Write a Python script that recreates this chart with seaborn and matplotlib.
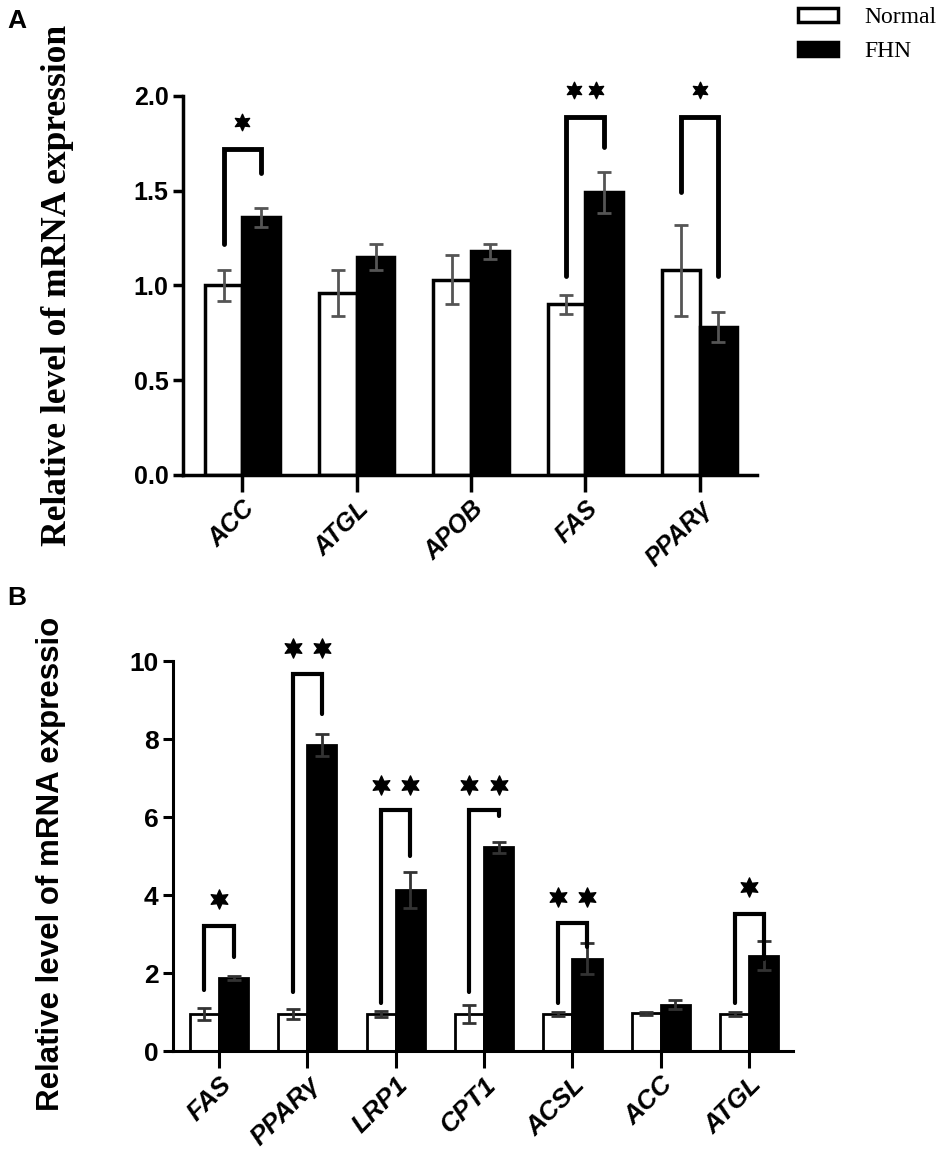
import pandas as pd
import numpy as np
import matplotlib
matplotlib.use('Agg')
import matplotlib.pyplot as plt
from matplotlib.patches import Patch
import seaborn as sns

### panel A data
genes_a = ['ACC', 'ATGL', 'APOB', 'FAS', 'PPARγ']
normal_a = [1.00, 0.96, 1.03, 0.90, 1.08]
normal_a_err = [0.08, 0.12, 0.13, 0.05, 0.24]
fhn_a = [1.36, 1.15, 1.18, 1.49, 0.78]
fhn_a_err = [0.05, 0.07, 0.04, 0.11, 0.08]
# significance brackets: gene index, left leg bottom, top, right leg bottom, label
sig_a_idx = [0, 3, 4]
sig_a_left = [1.22, 1.05, 1.49]
sig_a_top = [1.72, 1.89, 1.89]
sig_a_right = [1.59, 1.73, 1.05]
sig_a_stars = [1, 2, 1]
sig_a_star_y = [1.86, 2.03, 2.03]

### panel B data
genes_b = ['FAS', 'PPARγ', 'LRP1', 'CPT1', 'ACSL', 'ACC', 'ATGL']
normal_b = [0.95, 0.95, 0.95, 0.95, 0.95, 0.97, 0.95]
normal_b_err = [0.15, 0.12, 0.08, 0.22, 0.04, 0.04, 0.04]
fhn_b = [1.88, 7.85, 4.14, 5.23, 2.37, 1.19, 2.45]
fhn_b_err = [0.05, 0.28, 0.46, 0.14, 0.39, 0.12, 0.36]
sig_b_idx = [0, 1, 2, 3, 4, 6]
sig_b_left = [1.57, 1.52, 1.22, 1.52, 1.22, 1.22]
sig_b_top = [3.21, 9.67, 6.19, 6.19, 3.29, 3.51]
sig_b_right = [2.42, 8.65, 5.00, 6.02, 2.66, 2.37]
sig_b_stars = [1, 2, 2, 2, 2, 1]
sig_b_star_y = [3.90, 10.35, 6.82, 6.82, 3.95, 4.20]

groups = ['Normal', 'FHN']


def make_df(genes, normal, fhn):
    df = pd.DataFrame({'gene': genes * 2,
                       'group': ['Normal'] * len(genes) + ['FHN'] * len(genes),
                       'value': list(normal) + list(fhn)})
    return df


def draw_panel(ax, genes, normal, normal_err, fhn, fhn_err,
               s_idx, s_left, s_top, s_right, s_n, s_y, err_color, lw,
               star_gap, star_size, br_lw, spine_lw):
    df = make_df(genes, normal, fhn)
    sns.barplot(data=df, x='gene', y='value', hue='group', hue_order=groups,
                palette={'Normal': 'white', 'FHN': 'black'}, edgecolor='black',
                linewidth=lw, width=0.66, errorbar=None, ax=ax, legend=False)
    centers = []
    for cont, err in zip(ax.containers, [normal_err, fhn_err]):
        xs = [p.get_x() + p.get_width() / 2 for p in cont]
        ys = [p.get_height() for p in cont]
        ax.errorbar(xs, ys, yerr=err, fmt='none', ecolor=err_color,
                    elinewidth=2, capsize=5, capthick=2, zorder=1)
        centers.append(xs)
    # brackets
    for i, l, t, r, n, sy in zip(s_idx, s_left, s_top, s_right, s_n, s_y):
        x0 = centers[0][i]
        x1 = centers[1][i]
        ax.plot([x0, x0, x1, x1], [l, t, t, r], color='black', lw=br_lw,
                solid_capstyle='round', solid_joinstyle='miter', clip_on=False, zorder=5)
        mid = (x0 + x1) / 2
        if n == 1:
            sx = [mid]
        else:
            sx = [mid - star_gap, mid + star_gap]
        ax.scatter(sx, [sy] * len(sx), marker=(6, 1, 0), s=star_size, color='black',
                   clip_on=False, zorder=5)
    sns.despine(ax=ax)
    for s in ['left', 'bottom']:
        ax.spines[s].set_linewidth(spine_lw)
    ax.tick_params(axis='x', length=12, width=spine_lw)
    ax.tick_params(axis='y', length=7, width=spine_lw)
    ax.set_xlim(-0.52, len(genes) - 0.5)


fig = plt.figure(figsize=(9.53, 11.67), dpi=100)

ax_a = fig.add_axes([0.192, 0.593, 0.602, 0.325])
draw_panel(ax_a, genes_a, normal_a, normal_a_err, fhn_a, fhn_a_err,
           sig_a_idx, sig_a_left, sig_a_top, sig_a_right, sig_a_stars, sig_a_star_y,
           '#555555', 2.5, 0.095, 140, 3.5, 2.5)
ax_a.set_ylim(0, 2.0)
ax_a.set_yticks([0.0, 0.5, 1.0, 1.5, 2.0])
ax_a.set_yticklabels(['0.0', '0.5', '1.0', '1.5', '2.0'],
                     family=['Liberation Sans', 'DejaVu Sans'],
                     fontweight='bold', fontsize=18)
ax_a.set_xticks(range(len(genes_a)))
ax_a.set_xticklabels(genes_a, rotation=45, ha='right', rotation_mode='anchor',
                     family=['Liberation Sans', 'DejaVu Sans'],
                     fontweight='bold', fontstyle='italic', fontsize=18)
ax_a.set_xlabel('')
ax_a.set_ylabel('Relative level of mRNA expression', family='Liberation Serif',
                fontweight='bold', fontsize=25.5)
ax_a.yaxis.set_label_coords(-0.19, 0.5)

ax_b = fig.add_axes([0.1815, 0.0994, 0.651, 0.334])
draw_panel(ax_b, genes_b, normal_b, normal_b_err, fhn_b, fhn_b_err,
           sig_b_idx, sig_b_left, sig_b_top, sig_b_right, sig_b_stars, sig_b_star_y,
           '#333333', 2.0, 0.165, 190, 3.0, 2.2)
ax_b.set_ylim(0, 10)
ax_b.set_yticks([0, 2, 4, 6, 8, 10])
ax_b.set_yticklabels(['0', '2', '4', '6', '8', '10'],
                     family=['Liberation Sans', 'DejaVu Sans'],
                     fontweight='bold', fontsize=19)
ax_b.set_xticks(range(len(genes_b)))
ax_b.set_xticklabels(genes_b, rotation=45, ha='right', rotation_mode='anchor',
                     family=['Liberation Sans', 'DejaVu Sans'],
                     fontweight='bold', fontstyle='italic', fontsize=19)
ax_b.set_xlabel('')
ax_b.set_ylabel('Relative level of mRNA expressio', family='Liberation Sans',
                fontweight='bold', fontsize=22.5)
ax_b.yaxis.set_label_coords(-0.172, 0.48)

handles = [Patch(facecolor='white', edgecolor='black', linewidth=2.5),
           Patch(facecolor='black', edgecolor='black', linewidth=2.5)]
fig.legend(handles, groups, loc='upper right', bbox_to_anchor=(1.005, 1.012),
           frameon=False, prop={'family': 'Liberation Serif', 'size': 17},
           handlelength=1.7, handleheight=0.55, labelspacing=0.55, handletextpad=1.1)

fig.text(0.008, 0.982, 'A', family='Liberation Sans', fontweight='bold',
         fontsize=19, va='center')
fig.text(0.008, 0.488, 'B', family='Liberation Sans', fontweight='bold',
         fontsize=19, va='center')

fig.savefig('out.png', dpi=100)
